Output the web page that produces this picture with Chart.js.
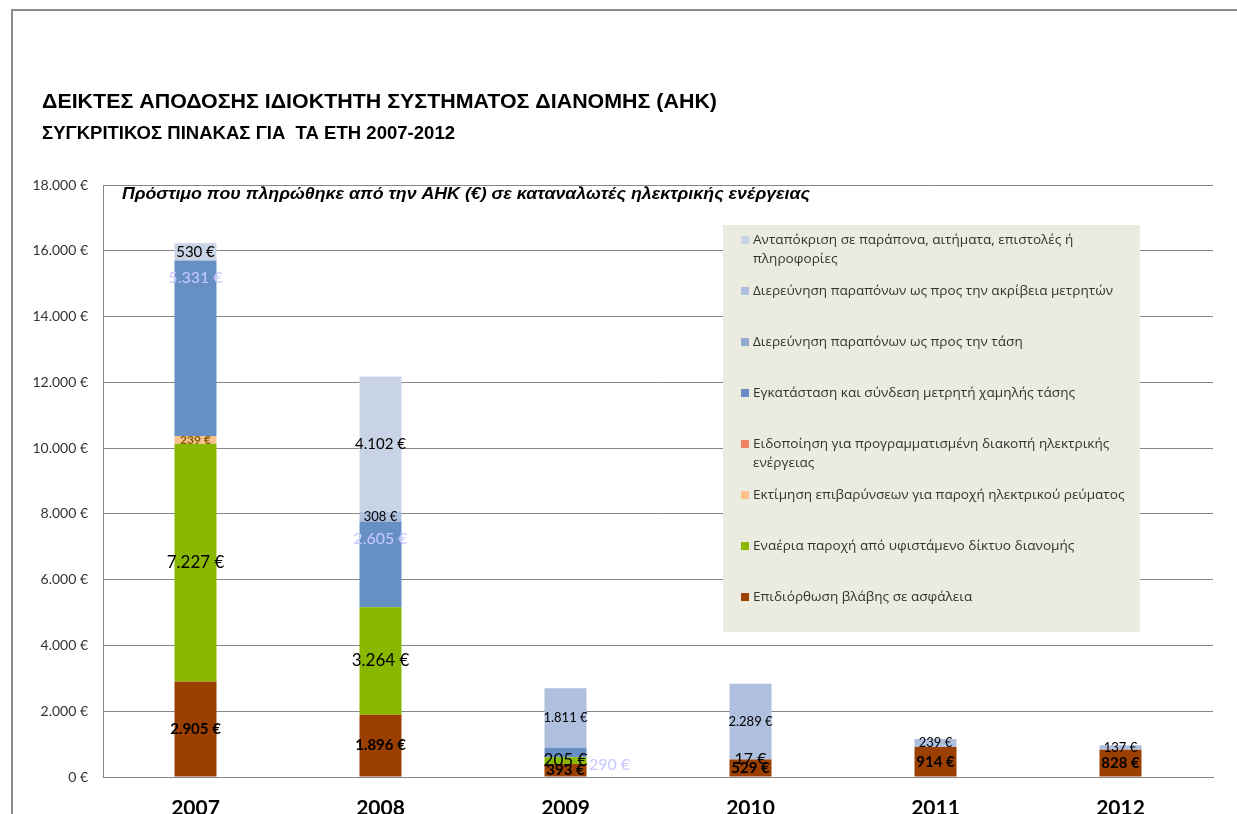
<!DOCTYPE html>
<html>
<head>
<meta charset="utf-8">
<script src="https://cdn.jsdelivr.net/npm/chart.js@4"></script>
<style>
  body { margin: 0; background: #fff; }
  canvas { display: block; }
</style>
</head>
<body>
<canvas id="fines" width="1237" height="814"></canvas>
<script>
// categories
const years = ["2007", "2008", "2009", "2010", "2011", "2012"];

// series values (€), bottom of the stack first
const fuseRepair   = [2905, 1896, 393, 529, 914, 828];
const overheadLine = [7227, 3264, 205, 0, 0, 0];
const chargeEstim  = [239, 0, 0, 0, 0, 0];
const outageNotice = [0, 0, 0, 0, 0, 0];
const meterInstall = [5331, 2605, 290, 0, 0, 0];
const voltageCompl = [0, 0, 0, 17, 0, 0];
const meterCompl   = [0, 308, 1811, 2289, 239, 137];
const replies      = [530, 4102, 0, 0, 0, 0];

// y axis ticks
const yTicks = [0, 2000, 4000, 6000, 8000, 10000, 12000, 14000, 16000, 18000];

const titleText = "ΔΕΙΚΤΕΣ ΑΠΟΔΟΣΗΣ ΙΔΙΟΚΤΗΤΗ ΣΥΣΤΗΜΑΤΟΣ ΔΙΑΝΟΜΗΣ (ΑΗΚ)";
const subtitleText = "ΣΥΓΚΡΙΤΙΚΟΣ ΠΙΝΑΚΑΣ ΓΙΑ  ΤΑ ΕΤΗ 2007-2012";
const innerTitle = "Πρόστιμο που πληρώθηκε από την ΑΗΚ (€) σε καταναλωτές ηλεκτρικής ενέργειας";

function euro(n) {
  return String(n).replace(/\B(?=(\d{3})+(?!\d))/g, ".") + " €";
}

// draw text squeezed/stretched to a given width
function fitText(ctx, text, x, y, width) {
  const w = ctx.measureText(text).width;
  ctx.save();
  ctx.translate(x, y);
  ctx.scale(width / w, 1);
  ctx.fillText(text, 0, 0);
  ctx.restore();
}

const numFont = "Lato, 'Open Sans', sans-serif";

// label look for each dataset
const labelStyle = {
  fuseRepair:   { font: "bold 15px " + numFont, color: "#000" },
  overheadLine: { font: "17px " + numFont, color: "#000" },
  chargeEstim:  { font: "bold 12px " + numFont, color: "#7f6000" },
  outageNotice: { font: "13px " + numFont, color: "#000" },
  meterInstall: { font: "16px " + numFont, color: "#c8c8ff", fromTop: 17 },
  voltageCompl: { font: "16px " + numFont, color: "#000" },
  meterCompl:   { font: "13px " + numFont, color: "#000" },
  replies:      { font: "15px " + numFont, color: "#000" },
};
// hand-moved labels: dataset id -> index -> [dx, dy]
const labelNudge = { meterInstall: { 2: [44, 12] } };

const barLabels = {
  id: "barLabels",
  afterDatasetsDraw(chart) {
    const ctx = chart.ctx;
    ctx.save();
    ctx.textAlign = "center";
    ctx.textBaseline = "middle";
    chart.data.datasets.forEach((ds, i) => {
      const meta = chart.getDatasetMeta(i);
      const st = labelStyle[ds.key];
      meta.data.forEach((bar, j) => {
        const v = ds.data[j];
        if (!v) return;
        const p = bar.getProps(["x", "y", "base"], true);
        let x = p.x;
        let y = st.fromTop !== undefined ? p.y + st.fromTop : (p.y + p.base) / 2;
        const n = labelNudge[ds.key] && labelNudge[ds.key][j];
        if (n) {
          x = p.x + n[0];
          y = (p.y + p.base) / 2 + n[1];
        }
        ctx.font = st.font;
        ctx.fillStyle = st.color;
        ctx.fillText(euro(v), x, y);
      });
    });
    ctx.restore();
  }
};

const decor = {
  id: "decor",
  beforeDraw(chart) {
    const ctx = chart.ctx;
    ctx.save();
    ctx.fillStyle = "#fff";
    ctx.fillRect(0, 0, chart.width, chart.height);
    // outer frame
    ctx.strokeStyle = "#8c8c8c";
    ctx.lineWidth = 2;
    ctx.beginPath();
    ctx.moveTo(12, chart.height);
    ctx.lineTo(12, 10);
    ctx.lineTo(chart.width, 10);
    ctx.stroke();
    // headings
    ctx.fillStyle = "#000";
    ctx.textBaseline = "middle";
    ctx.font = "bold 21px 'Liberation Sans Narrow', 'Liberation Sans', Arial, sans-serif";
    fitText(ctx, titleText, 42, 102, 675);
    ctx.font = "bold 19px 'Liberation Sans Narrow', 'Liberation Sans', Arial, sans-serif";
    fitText(ctx, subtitleText, 42, 134, 413);
    ctx.restore();
  },
  afterDraw(chart) {
    const ctx = chart.ctx;
    ctx.save();
    ctx.fillStyle = "#000";
    ctx.textBaseline = "middle";
    ctx.font = "italic bold 16px 'Liberation Sans', Arial, sans-serif";
    fitText(ctx, innerTitle, 122, 195, 688);

    // legend box
    ctx.fillStyle = "#ebebdf";
    ctx.fillRect(723, 225, 417, 407);
    ctx.font = "13px 'Open Sans', 'Noto Sans', sans-serif";
    const ref = chart.data.datasets.find(d => d.key === "meterInstall").label;
    const sx = 322 / ctx.measureText(ref).width;
    const maxW = 378 / sx;
    const items = chart.data.datasets.slice().reverse();
    items.forEach((ds, k) => {
      const y0 = 240 + k * 51;
      ctx.fillStyle = ds.backgroundColor;
      ctx.fillRect(741, y0 - 4, 8, 8);
      // wrap words
      const words = ds.label.split(" ");
      const lines = [];
      let cur = "";
      words.forEach(w => {
        const t = cur ? cur + " " + w : w;
        if (ctx.measureText(t).width > maxW && cur) {
          lines.push(cur);
          cur = w;
        } else {
          cur = t;
        }
      });
      lines.push(cur);
      ctx.fillStyle = "#333";
      lines.forEach((ln, m) => {
        ctx.save();
        ctx.translate(753, y0 + m * 19);
        ctx.scale(sx, 1);
        ctx.fillText(ln, 0, 0);
        ctx.restore();
      });
    });
    ctx.restore();
  }
};

function makeSet(key, label, data, color) {
  return { key: key, label: label, data: data, backgroundColor: color, borderWidth: 0 };
}

new Chart(document.getElementById("fines"), {
  type: "bar",
  data: {
    labels: years,
    datasets: [
      makeSet("fuseRepair", "Επιδιόρθωση βλάβης σε ασφάλεια", fuseRepair, "#9b4000"),
      makeSet("overheadLine", "Εναέρια παροχή από υφιστάμενο δίκτυο διανομής", overheadLine, "#8ab800"),
      makeSet("chargeEstim", "Εκτίμηση επιβαρύνσεων για παροχή ηλεκτρικού ρεύματος", chargeEstim, "#fac090"),
      makeSet("outageNotice", "Ειδοποίηση για προγραμματισμένη διακοπή ηλεκτρικής ενέργειας", outageNotice, "#f08266"),
      makeSet("meterInstall", "Εγκατάσταση και σύνδεση μετρητή χαμηλής τάσης", meterInstall, "#6690c4"),
      makeSet("voltageCompl", "Διερεύνηση παραπόνων ως προς την τάση", voltageCompl, "#95aad2"),
      makeSet("meterCompl", "Διερεύνηση παραπόνων ως προς την ακρίβεια μετρητών", meterCompl, "#afbfde"),
      makeSet("replies", "Ανταπόκριση σε παράπονα, αιτήματα, επιστολές ή πληροφορίες", replies, "#c9d3e6"),
    ],
  },
  options: {
    responsive: false,
    animation: false,
    layout: { padding: { left: 0, top: 185, right: 24, bottom: 0 } },
    datasets: { bar: { categoryPercentage: 1, barPercentage: 0.227 } },
    plugins: {
      legend: { display: false },
      title: { display: false },
      tooltip: { enabled: false },
    },
    scales: {
      x: {
        stacked: true,
        grid: { display: false, drawTicks: false },
        border: { color: "#868686", width: 1 },
        ticks: {
          padding: 19,
          color: "#000",
          font: { family: numFont, size: 21, weight: "bold" },
        },
        afterFit(scale) { scale.height = 37; },
      },
      y: {
        stacked: true,
        min: 0,
        max: 18000,
        afterBuildTicks(scale) { scale.ticks = yTicks.map(v => ({ value: v })); },
        grid: { color: "#868686", drawTicks: false },
        border: { color: "#868686", width: 1 },
        ticks: {
          padding: 15,
          color: "#333",
          font: { family: numFont, size: 14 },
          callback: v => euro(v),
        },
        afterFit(scale) { scale.width = 103; },
      },
    },
  },
  plugins: [decor, barLabels],
});
</script>
</body>
</html>
